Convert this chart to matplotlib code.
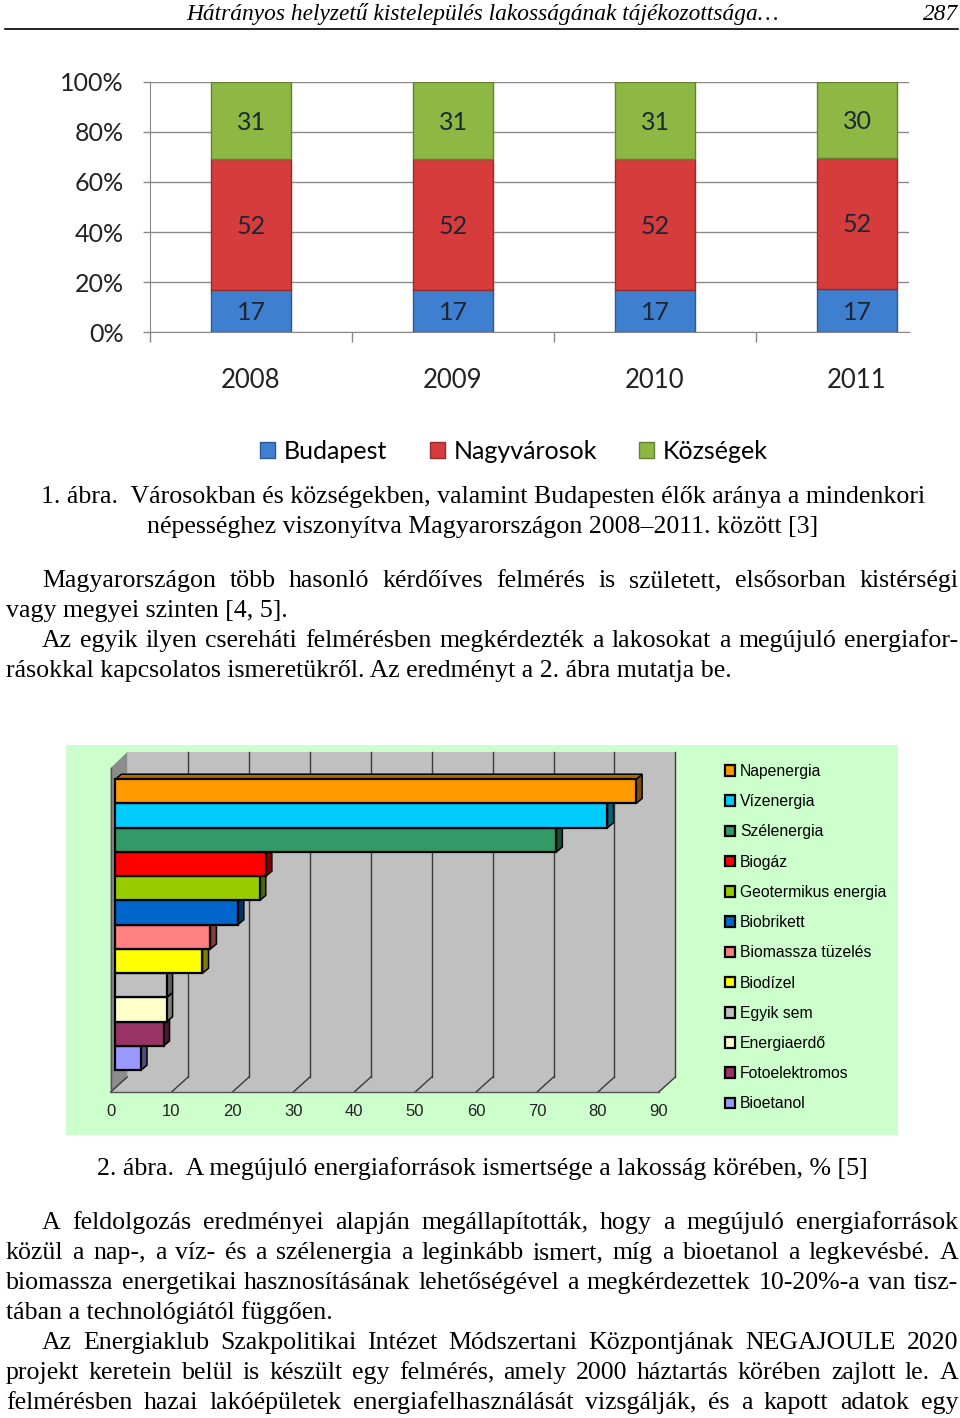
import matplotlib
matplotlib.use("Agg")
import matplotlib.pyplot as plt
from matplotlib.patches import Polygon, Rectangle, Patch
from matplotlib.colors import to_rgb

W, H = 960, 1418
SERIF = ["Liberation Serif", "DejaVu Serif"]
SANS1 = ["Lato", "DejaVu Sans"]
SANS2 = ["Liberation Sans", "DejaVu Sans"]
BODY = 18.6

# --- 1. abra adatai ---
years = ["2008", "2009", "2010", "2011"]
budapest = [17, 17, 17, 17]
nagyvarosok = [52, 52, 52, 52]
kozsegek = [31, 31, 31, 30]
group_names = ["Budapest", "Nagyvárosok", "Községek"]
group_colors = ["#3f7fd0", "#d63c3c", "#8db843"]
pct_ticks = [0, 20, 40, 60, 80, 100]

# --- 2. abra adatai ---
sources = ["Napenergia", "Vízenergia", "Szélenergia", "Biogáz",
           "Geotermikus energia", "Biobrikett", "Biomassza tüzelés",
           "Biodízel", "Egyik sem", "Energiaerdő", "Fotoelektromos",
           "Bioetanol"]
ismertseg = [85.5, 80.8, 72.4, 24.7, 23.7, 20.1, 15.6, 14.3, 8.4, 8.4, 7.9, 4.2]
source_colors = ["#ff9900", "#00ccff", "#339966", "#ff0000", "#99cc00",
                 "#0066cc", "#ff8080", "#ffff00", "#c0c0c0", "#ffffcc",
                 "#993366", "#9999ff"]
x2_ticks = list(range(0, 100, 10))

header = "Hátrányos helyzetű kistelepülés lakosságának tájékozottsága…"
page_no = "287"
caption1 = ["1. ábra.  Városokban és községekben, valamint Budapesten élők aránya a mindenkori",
            "népességhez viszonyítva Magyarországon 2008–2011. között [3]"]
para1 = [("Magyarországon több hasonló kérdőíves felmérés is született, elsősorban kistérségi", True, True),
         ("vagy megyei szinten [4, 5].", False, False),
         ("Az egyik ilyen cserehá" + "ti felmérésben megkérdezték a lakosokat a megújuló energiafor-", True, True),
         ("rásokkal kapcsolatos ismeretükről. Az eredményt a 2. ábra mutatja be.", False, False)]
caption2 = "2. ábra.  A megújuló energiaforrások ismertsége a lakosság körében, % [5]"
para2 = [("A feldolgozás eredményei alapján megállapították, hogy a megújuló energiaforrások", True, True),
         ("közül a nap-, a víz- és a szélenergia a leginkább ismert, míg a bioetanol a legkevésbé. A", False, True),
         ("biomassza energetikai hasznosításának lehetőségével a megkérdezettek 10-20%-a van tisz-", False, True),
         ("tában a technológiától függően.", False, False),
         ("Az Energiaklub Szakpolitikai Intézet Módszertani Központjának NEGAJOULE 2020", True, True),
         ("projekt keretein belül is készült egy felmérés, amely 2000 háztartás körében zajlott le. A", False, True),
         ("felmérésben hazai lakóépületek energiafelhasználását vizsgálják, és a kapott adatok egy", False, True)]

fig = plt.figure(figsize=(W / 100, H / 100), dpi=100)
fig.patch.set_facecolor("white")
renderer = fig.canvas.get_renderer()


def put(x, y, s, **kw):
    return fig.text(x / W, 1 - y / H, s, **kw)


def text_line(x0, x1, y, line, justify):
    if not justify:
        return put(x0, y, line, fontsize=BODY, family=SERIF, va="baseline")
    words = line.split()
    objs = [put(0, y, w, fontsize=BODY, family=SERIF, va="baseline") for w in words]
    ws = [o.get_window_extent(renderer).width for o in objs]
    gap = (x1 - x0 - sum(ws)) / (len(words) - 1)
    x = x0
    for o, w in zip(objs, ws):
        o.set_x(x / W)
        x += w + gap


def shade(c, k):
    r, g, b = to_rgb(c)
    return (r * k, g * k, b * k)


# fejlec
put(482, 20, header, fontsize=16.8, family=SERIF, style="italic", ha="center", va="baseline")
put(958, 20, page_no, fontsize=16.8, family=SERIF, style="italic", ha="right", va="baseline")
fig.add_artist(plt.Line2D([5 / W, 958 / W], [1 - 29 / H, 1 - 29 / H], color="black", lw=1.2))

# ---------------- 1. abra ----------------
ax1 = fig.add_axes([150 / W, 1 - 332 / H, (909 - 150) / W, (332 - 82) / H])
xpos = list(range(len(years)))
tot = [b + n + k for b, n, k in zip(budapest, nagyvarosok, kozsegek)]
bottom = [0.0] * len(years)
for vals, col in zip([budapest, nagyvarosok, kozsegek], group_colors):
    frac = [100.0 * v / t for v, t in zip(vals, tot)]
    ax1.bar(xpos, frac, width=0.4, bottom=bottom, color=col,
            edgecolor=shade(col, 0.7), linewidth=1.0, zorder=3)
    for x, b, f, v in zip(xpos, bottom, frac, vals):
        ax1.text(x, b + f / 2 - 0.6, str(v), ha="center", va="center", fontsize=18,
                 family=SANS1, color="#1d2733", zorder=4)
    bottom = [b + f for b, f in zip(bottom, frac)]

ax1.set_xlim(-0.5, 3.257)
ax1.set_ylim(0, 100)
ax1.set_yticks(pct_ticks)
ax1.set_yticklabels([f"{t}%" for t in pct_ticks], fontsize=18, family=SANS1, color="#222222")
ax1.set_xticks(xpos)
ax1.set_xticklabels(years, fontsize=18.5, family=SANS1, color="#222222")
ax1.set_xticks([-0.5, 0.5, 1.5, 2.5], minor=True)
ax1.tick_params(axis="x", which="major", length=0, pad=26)
ax1.tick_params(axis="x", which="minor", length=7, color="#888888", width=1)
ax1.tick_params(axis="y", length=5, color="#888888", width=1, pad=14)
ax1.grid(axis="y", color="#8a8a8a", lw=1, zorder=0)
for s in ["top", "right"]:
    ax1.spines[s].set_visible(False)
for s in ["left", "bottom"]:
    ax1.spines[s].set_color("#888888")
ax1.set_axisbelow(True)

h1 = [Patch(facecolor=c, edgecolor=shade(c, 0.7)) for c in group_colors]
fig.legend(h1, group_names, loc="center", bbox_to_anchor=(514 / W, 1 - 451 / H),
           ncol=3, frameon=False, prop={"family": SANS1, "size": 18},
           handlelength=0.6, handleheight=0.6, handletextpad=0.35, columnspacing=1.7)

# captions + first paragraphs
put(483, 503, caption1[0], fontsize=BODY, family=SERIF, ha="center", va="baseline")
put(483, 533, caption1[1], fontsize=BODY, family=SERIF, ha="center", va="baseline")
for i, (line, indent, just) in enumerate(para1):
    text_line(42 if indent else 6, 958, 587 + 30 * i, line, just)

# ---------------- 2. abra ----------------
ax2 = fig.add_axes([66 / W, 1 - 1135 / H, (898 - 66) / W, (1135 - 745) / H])
ax2.set_xlim(-8.11, 128.5)
ax2.set_ylim(14.17, -1.91)
ax2.axis("off")
ax2.add_patch(Rectangle((-8.11, -1.91), 136.6, 16.08, facecolor="#ccffcc", edgecolor="none", zorder=0))

FX, FY = -0.79, 12.40      # elso padlo el
BX, BY = 1.94, 11.78       # hatso fal alja
TOP_B, TOP_F = -1.62, -0.96
BDX, BDY = 0.99, 0.206     # oszlop melyseg
xmax = x2_ticks[-1]

wall_c = "#c0c0c0"
ax2.add_patch(Polygon([(BX, TOP_B), (BX + xmax, TOP_B), (BX + xmax, BY), (BX, BY)],
                      facecolor=wall_c, edgecolor="none", zorder=1))
ax2.add_patch(Polygon([(FX, FY), (FX + xmax, FY), (BX + xmax, BY), (BX, BY)],
                      facecolor=wall_c, edgecolor="none", zorder=1))
ax2.add_patch(Polygon([(FX, TOP_F), (BX, TOP_B), (BX, BY), (FX, FY)],
                      facecolor="#8c8c8c", edgecolor="none", zorder=1))
for t in x2_ticks[1:]:
    ax2.plot([BX + t, BX + t], [TOP_B, BY], color="#3a3a3a", lw=1, zorder=1.5)
for t in x2_ticks:
    ax2.plot([FX + t, BX + t], [FY, BY], color="#3a3a3a", lw=1, zorder=1.5)
    ax2.text(FX + t, 13.22, str(t), ha="center", va="center", fontsize=12,
             family=SANS2, color="#222222")
ax2.plot([FX, FX + xmax], [FY, FY], color="#555555", lw=1, zorder=1.5)
ax2.plot([FX, FX], [TOP_F, FY], color="#555555", lw=1, zorder=1.5)

handles = []
n = len(sources)
for i in range(n - 1, -1, -1):
    v, c = ismertseg[i], source_colors[i]
    z = 2 + (n - i) * 0.1
    y0, y1 = i - 0.5, i + 0.5
    ax2.add_patch(Polygon([(v, y0), (v + BDX, y0 - BDY), (v + BDX, y1 - BDY), (v, y1)],
                          facecolor=shade(c, 0.5), edgecolor="black", lw=1.1, zorder=z))
    ax2.add_patch(Polygon([(0, y0), (v, y0), (v + BDX, y0 - BDY), (BDX, y0 - BDY)],
                          facecolor=shade(c, 0.7), edgecolor="black", lw=1.1, zorder=z))
    bars = ax2.barh(i, v, height=1.0, left=0, color=c, edgecolor="black", lw=1.6, zorder=z + 0.01)
    handles.insert(0, bars[0])

ax2.legend(handles, sources, loc="upper left", bbox_to_anchor=(725 / W, 1 - 764 / H),
           bbox_transform=fig.transFigure, frameon=False, prop={"family": SANS2, "size": 11.3},
           handlelength=0.65, handleheight=0.65, handletextpad=0.3, labelspacing=0.97,
           borderpad=0, borderaxespad=0)

put(482, 1175, caption2, fontsize=BODY, family=SERIF, ha="center", va="baseline")
for i, (line, indent, just) in enumerate(para2):
    text_line(42 if indent else 6, 958, 1229 + 30 * i, line, just)

fig.savefig("out.png", dpi=100, facecolor="white")
